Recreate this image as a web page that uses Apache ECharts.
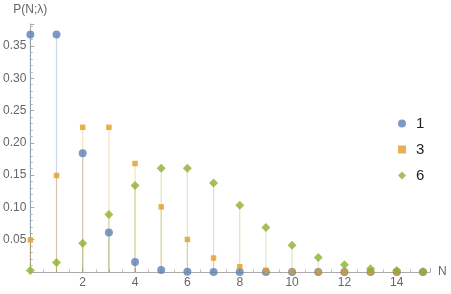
<!DOCTYPE html>
<html><head><meta charset="utf-8">
<script src="https://cdn.jsdelivr.net/npm/echarts@6/dist/echarts.min.js"></script>
<style>html,body{margin:0;padding:0;background:#fff}#c{width:451px;height:294px}</style>
</head><body><div id="c"></div>
<script>
const N = [0,1,2,3,4,5,6,7,8,9,10,11,12,13,14,15];
const p1 = [0.3679,0.3679,0.1839,0.0613,0.0153,0.0031,0.0005,0.0001,0.0000,0.0000,0.0000,0.0000,0.0000,0.0000,0.0000,0.0000];
const p3 = [0.0498,0.1494,0.2240,0.2240,0.1680,0.1008,0.0504,0.0216,0.0081,0.0027,0.0008,0.0002,0.0001,0.0000,0.0000,0.0000];
const p6 = [0.0025,0.0149,0.0446,0.0892,0.1339,0.1606,0.1606,0.1377,0.1033,0.0688,0.0413,0.0225,0.0113,0.0052,0.0022,0.0009];
const names = ['1','3','6'];
const colors = ['#5E81B5','#E19C24','#8FB032'];
const stemColors = ['rgba(94,129,181,0.3)','rgba(225,156,36,0.3)','rgba(143,176,50,0.3)'];
const symbols = ['circle','rect','diamond'];
const sizes = [8,5.5,9];
const all = [p1,p3,p6];

const series = [];
all.forEach((d,i)=>{
  series.push({type:'bar', name:'s'+i, data:N.map((n,k)=>[n,d[k]]), barWidth:1.2, barGap:'-100%',
    itemStyle:{color:stemColors[i]}, silent:true, z:1});
});
all.forEach((d,i)=>{
  series.push({type:'scatter', name:names[i], data:N.map((n,k)=>[n,d[k]]), symbol:symbols[i], symbolSize:sizes[i],
    itemStyle:{color:colors[i]}, z:3+i});
});

const chart = echarts.init(document.getElementById('c'));
chart.setOption({
  animation:false,
  grid:{left:27, right:21, top:24, bottom:22, containLabel:false},
  legend:{data:names, orient:'vertical', left:393, top:111, itemWidth:8, itemHeight:8, itemGap:11,
    textStyle:{fontSize:15, color:'#222', fontFamily:'Liberation Sans, Arial, sans-serif', padding:[0,0,0,5]}},
  xAxis:{type:'value', min:0, max:15.27, interval:2, name:'N', nameLocation:'end', nameGap:8,
    nameTextStyle:{color:'#666', fontSize:12, fontFamily:'Liberation Sans, Arial, sans-serif'},
    axisLine:{onZero:false, lineStyle:{color:'#aaa'}},
    axisTick:{inside:true, length:4, lineStyle:{color:'#aaa'}},
    minorTick:{show:true, splitNumber:4, length:2.5, lineStyle:{color:'#bbb'}},
    splitLine:{show:false},
    axisLabel:{color:'#666', fontSize:12, margin:5, fontFamily:'Liberation Sans, Arial, sans-serif',
      formatter:v=> (v===0 || v%2!==0) ? '' : String(v), showMaxLabel:false}},
  yAxis:{type:'value', min:0, max:0.384, interval:0.05, name:'P(N;λ)', nameLocation:'end', nameGap:8,
    nameTextStyle:{color:'#666', fontSize:12, fontFamily:'Liberation Sans, Arial, sans-serif', align:'center'},
    axisLine:{show:true, lineStyle:{color:'#aaa'}},
    axisTick:{inside:true, length:4, lineStyle:{color:'#aaa'}},
    minorTick:{show:true, splitNumber:5, length:2.5, lineStyle:{color:'#bbb'}},
    splitLine:{show:false},
    axisLabel:{color:'#666', fontSize:12, margin:4, fontFamily:'Liberation Sans, Arial, sans-serif', showMaxLabel:false,
      formatter:v=> (v===0 || Math.abs(v*20-Math.round(v*20))>1e-6) ? '' : v.toFixed(2)}},
  series:series
});
</script></body></html>
